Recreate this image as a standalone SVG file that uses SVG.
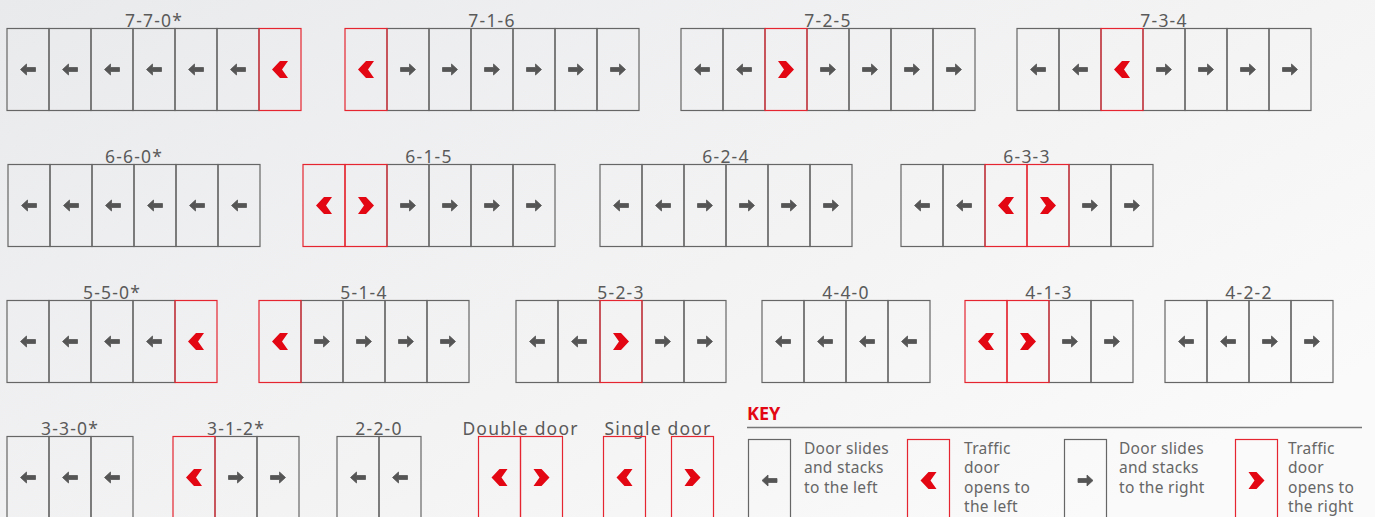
<svg xmlns="http://www.w3.org/2000/svg" xmlns:xlink="http://www.w3.org/1999/xlink" width="1375" height="517" viewBox="0 0 1375 517">
<defs>
<linearGradient id="bg" x1="0" y1="0" x2="1" y2="0.7">
<stop offset="0" stop-color="#e9eaec"/>
<stop offset="0.6" stop-color="#f3f3f4"/>
<stop offset="1" stop-color="#fafafa"/>
</linearGradient>
<path id="al" d="M-7.5,0 L-1.5,-5.5 L-1.5,-2 L7.5,-2 L7.5,2 L-1.5,2 L-1.5,5.5 Z" fill="#555" stroke="#555" stroke-width="0.8" stroke-linejoin="round"/>
<path id="ar" d="M7.5,0 L1.5,-5.5 L1.5,-2 L-7.5,-2 L-7.5,2 L1.5,2 L1.5,5.5 Z" fill="#555" stroke="#555" stroke-width="0.8" stroke-linejoin="round"/>
<polygon id="cl" points="-8,0 0,-8.5 8,-8.5 2,0 8,8.5 0,8.5" fill="#e30613"/>
<polygon id="cr" points="8,0 0,-8.5 -8,-8.5 -2,0 -8,8.5 0,8.5" fill="#e30613"/>
</defs>
<style>
.p{fill:none;stroke:#666;stroke-width:1.2}
.r{fill:none;stroke:#e52530;stroke-width:1.2}
.lb{font-family:"Noto Sans","Liberation Sans",sans-serif;font-size:17.5px;fill:#5a5a5a;text-anchor:middle;letter-spacing:1.2px}
.lw{letter-spacing:1.2px}
.kt{font-family:"Noto Sans","Liberation Sans",sans-serif;font-size:15.5px;fill:#666;letter-spacing:0.3px}
.key{font-family:"Noto Sans","Liberation Sans",sans-serif;font-size:18px;font-weight:bold;fill:#e30613}
</style>
<rect x="0" y="0" width="1375" height="517" fill="url(#bg)"/>

<g id="c770">
<text class="lb" x="154" y="26.5">7-7-0*</text>
<rect class="p" x="7" y="28.5" width="42" height="82"/><rect class="p" x="49" y="28.5" width="42" height="82"/><rect class="p" x="91" y="28.5" width="42" height="82"/><rect class="p" x="133" y="28.5" width="42" height="82"/><rect class="p" x="175" y="28.5" width="42" height="82"/><rect class="p" x="217" y="28.5" width="42" height="82"/><rect class="r" x="259" y="28.5" width="42" height="82"/>
<use href="#al" x="28" y="69.5"/><use href="#al" x="70" y="69.5"/><use href="#al" x="112" y="69.5"/><use href="#al" x="154" y="69.5"/><use href="#al" x="196" y="69.5"/><use href="#al" x="238" y="69.5"/><use href="#cl" x="280" y="69.5"/>
</g>
<g id="c716">
<text class="lb" x="492" y="26.5">7-1-6</text>
<rect class="p" x="387" y="28.5" width="42" height="82"/><rect class="p" x="429" y="28.5" width="42" height="82"/><rect class="p" x="471" y="28.5" width="42" height="82"/><rect class="p" x="513" y="28.5" width="42" height="82"/><rect class="p" x="555" y="28.5" width="42" height="82"/><rect class="p" x="597" y="28.5" width="42" height="82"/><rect class="r" x="345" y="28.5" width="42" height="82"/>
<use href="#cl" x="366" y="69.5"/><use href="#ar" x="408" y="69.5"/><use href="#ar" x="450" y="69.5"/><use href="#ar" x="492" y="69.5"/><use href="#ar" x="534" y="69.5"/><use href="#ar" x="576" y="69.5"/><use href="#ar" x="618" y="69.5"/>
</g>
<g id="c725">
<text class="lb" x="828" y="26.5">7-2-5</text>
<rect class="p" x="681" y="28.5" width="42" height="82"/><rect class="p" x="723" y="28.5" width="42" height="82"/><rect class="p" x="807" y="28.5" width="42" height="82"/><rect class="p" x="849" y="28.5" width="42" height="82"/><rect class="p" x="891" y="28.5" width="42" height="82"/><rect class="p" x="933" y="28.5" width="42" height="82"/><rect class="r" x="765" y="28.5" width="42" height="82"/>
<use href="#al" x="702" y="69.5"/><use href="#al" x="744" y="69.5"/><use href="#cr" x="786" y="69.5"/><use href="#ar" x="828" y="69.5"/><use href="#ar" x="870" y="69.5"/><use href="#ar" x="912" y="69.5"/><use href="#ar" x="954" y="69.5"/>
</g>
<g id="c734">
<text class="lb" x="1164" y="26.5">7-3-4</text>
<rect class="p" x="1017" y="28.5" width="42" height="82"/><rect class="p" x="1059" y="28.5" width="42" height="82"/><rect class="p" x="1143" y="28.5" width="42" height="82"/><rect class="p" x="1185" y="28.5" width="42" height="82"/><rect class="p" x="1227" y="28.5" width="42" height="82"/><rect class="p" x="1269" y="28.5" width="42" height="82"/><rect class="r" x="1101" y="28.5" width="42" height="82"/>
<use href="#al" x="1038" y="69.5"/><use href="#al" x="1080" y="69.5"/><use href="#cl" x="1122" y="69.5"/><use href="#ar" x="1164" y="69.5"/><use href="#ar" x="1206" y="69.5"/><use href="#ar" x="1248" y="69.5"/><use href="#ar" x="1290" y="69.5"/>
</g>

<g id="c660">
<text class="lb" x="134" y="162.5">6-6-0*</text>
<rect class="p" x="8" y="164.5" width="42" height="82"/><rect class="p" x="50" y="164.5" width="42" height="82"/><rect class="p" x="92" y="164.5" width="42" height="82"/><rect class="p" x="134" y="164.5" width="42" height="82"/><rect class="p" x="176" y="164.5" width="42" height="82"/><rect class="p" x="218" y="164.5" width="42" height="82"/>
<use href="#al" x="29" y="205.5"/><use href="#al" x="71" y="205.5"/><use href="#al" x="113" y="205.5"/><use href="#al" x="155" y="205.5"/><use href="#al" x="197" y="205.5"/><use href="#al" x="239" y="205.5"/>
</g>
<g id="c615">
<text class="lb" x="429" y="162.5">6-1-5</text>
<rect class="p" x="387" y="164.5" width="42" height="82"/><rect class="p" x="429" y="164.5" width="42" height="82"/><rect class="p" x="471" y="164.5" width="42" height="82"/><rect class="p" x="513" y="164.5" width="42" height="82"/><rect class="r" x="303" y="164.5" width="42" height="82"/><rect class="r" x="345" y="164.5" width="42" height="82"/>
<use href="#cl" x="324" y="205.5"/><use href="#cr" x="366" y="205.5"/><use href="#ar" x="408" y="205.5"/><use href="#ar" x="450" y="205.5"/><use href="#ar" x="492" y="205.5"/><use href="#ar" x="534" y="205.5"/>
</g>
<g id="c624">
<text class="lb" x="726" y="162.5">6-2-4</text>
<rect class="p" x="600" y="164.5" width="42" height="82"/><rect class="p" x="642" y="164.5" width="42" height="82"/><rect class="p" x="684" y="164.5" width="42" height="82"/><rect class="p" x="726" y="164.5" width="42" height="82"/><rect class="p" x="768" y="164.5" width="42" height="82"/><rect class="p" x="810" y="164.5" width="42" height="82"/>
<use href="#al" x="621" y="205.5"/><use href="#al" x="663" y="205.5"/><use href="#ar" x="705" y="205.5"/><use href="#ar" x="747" y="205.5"/><use href="#ar" x="789" y="205.5"/><use href="#ar" x="831" y="205.5"/>
</g>
<g id="c633">
<text class="lb" x="1027" y="162.5">6-3-3</text>
<rect class="p" x="901" y="164.5" width="42" height="82"/><rect class="p" x="943" y="164.5" width="42" height="82"/><rect class="p" x="1069" y="164.5" width="42" height="82"/><rect class="p" x="1111" y="164.5" width="42" height="82"/><rect class="r" x="985" y="164.5" width="42" height="82"/><rect class="r" x="1027" y="164.5" width="42" height="82"/>
<use href="#al" x="922" y="205.5"/><use href="#al" x="964" y="205.5"/><use href="#cl" x="1006" y="205.5"/><use href="#cr" x="1048" y="205.5"/><use href="#ar" x="1090" y="205.5"/><use href="#ar" x="1132" y="205.5"/>
</g>

<g id="c550">
<text class="lb" x="112" y="298.5">5-5-0*</text>
<rect class="p" x="7" y="300.5" width="42" height="82"/><rect class="p" x="49" y="300.5" width="42" height="82"/><rect class="p" x="91" y="300.5" width="42" height="82"/><rect class="p" x="133" y="300.5" width="42" height="82"/><rect class="r" x="175" y="300.5" width="42" height="82"/>
<use href="#al" x="28" y="341.5"/><use href="#al" x="70" y="341.5"/><use href="#al" x="112" y="341.5"/><use href="#al" x="154" y="341.5"/><use href="#cl" x="196" y="341.5"/>
</g>
<g id="c514">
<text class="lb" x="364" y="298.5">5-1-4</text>
<rect class="p" x="301" y="300.5" width="42" height="82"/><rect class="p" x="343" y="300.5" width="42" height="82"/><rect class="p" x="385" y="300.5" width="42" height="82"/><rect class="p" x="427" y="300.5" width="42" height="82"/><rect class="r" x="259" y="300.5" width="42" height="82"/>
<use href="#cl" x="280" y="341.5"/><use href="#ar" x="322" y="341.5"/><use href="#ar" x="364" y="341.5"/><use href="#ar" x="406" y="341.5"/><use href="#ar" x="448" y="341.5"/>
</g>
<g id="c523">
<text class="lb" x="621" y="298.5">5-2-3</text>
<rect class="p" x="516" y="300.5" width="42" height="82"/><rect class="p" x="558" y="300.5" width="42" height="82"/><rect class="p" x="642" y="300.5" width="42" height="82"/><rect class="p" x="684" y="300.5" width="42" height="82"/><rect class="r" x="600" y="300.5" width="42" height="82"/>
<use href="#al" x="537" y="341.5"/><use href="#al" x="579" y="341.5"/><use href="#cr" x="621" y="341.5"/><use href="#ar" x="663" y="341.5"/><use href="#ar" x="705" y="341.5"/>
</g>
<g id="c440">
<text class="lb" x="846" y="298.5">4-4-0</text>
<rect class="p" x="762" y="300.5" width="42" height="82"/><rect class="p" x="804" y="300.5" width="42" height="82"/><rect class="p" x="846" y="300.5" width="42" height="82"/><rect class="p" x="888" y="300.5" width="42" height="82"/>
<use href="#al" x="783" y="341.5"/><use href="#al" x="825" y="341.5"/><use href="#al" x="867" y="341.5"/><use href="#al" x="909" y="341.5"/>
</g>
<g id="c413">
<text class="lb" x="1049" y="298.5">4-1-3</text>
<rect class="p" x="1049" y="300.5" width="42" height="82"/><rect class="p" x="1091" y="300.5" width="42" height="82"/><rect class="r" x="965" y="300.5" width="42" height="82"/><rect class="r" x="1007" y="300.5" width="42" height="82"/>
<use href="#cl" x="986" y="341.5"/><use href="#cr" x="1028" y="341.5"/><use href="#ar" x="1070" y="341.5"/><use href="#ar" x="1112" y="341.5"/>
</g>
<g id="c422">
<text class="lb" x="1249" y="298.5">4-2-2</text>
<rect class="p" x="1165" y="300.5" width="42" height="82"/><rect class="p" x="1207" y="300.5" width="42" height="82"/><rect class="p" x="1249" y="300.5" width="42" height="82"/><rect class="p" x="1291" y="300.5" width="42" height="82"/>
<use href="#al" x="1186" y="341.5"/><use href="#al" x="1228" y="341.5"/><use href="#ar" x="1270" y="341.5"/><use href="#ar" x="1312" y="341.5"/>
</g>

<g id="c330">
<text class="lb" x="70" y="434.5">3-3-0*</text>
<rect class="p" x="7" y="436.5" width="42" height="90"/><rect class="p" x="49" y="436.5" width="42" height="90"/><rect class="p" x="91" y="436.5" width="42" height="90"/>
<use href="#al" x="28" y="477.5"/><use href="#al" x="70" y="477.5"/><use href="#al" x="112" y="477.5"/>
</g>
<g id="c312">
<text class="lb" x="236" y="434.5">3-1-2*</text>
<rect class="p" x="215" y="436.5" width="42" height="90"/><rect class="p" x="257" y="436.5" width="42" height="90"/><rect class="r" x="173" y="436.5" width="42" height="90"/>
<use href="#cl" x="194" y="477.5"/><use href="#ar" x="236" y="477.5"/><use href="#ar" x="278" y="477.5"/>
</g>
<g id="c220">
<text class="lb" x="379" y="434.5">2-2-0</text>
<rect class="p" x="337" y="436.5" width="42" height="90"/><rect class="p" x="379" y="436.5" width="42" height="90"/>
<use href="#al" x="358" y="477.5"/><use href="#al" x="400" y="477.5"/>
</g>
<g id="double">
<text class="lb lw" x="520.5" y="434.5">Double door</text>
<rect class="r" x="478.5" y="436.5" width="42" height="90"/><rect class="r" x="520.5" y="436.5" width="42" height="90"/>
<use href="#cl" x="499.5" y="477.5"/><use href="#cr" x="541.5" y="477.5"/>
</g>
<g id="single">
<text class="lb lw" x="658" y="434.5">Single door</text>
<rect class="r" x="603.5" y="436.5" width="42" height="90"/><rect class="r" x="671.5" y="436.5" width="42" height="90"/>
<use href="#cl" x="624.5" y="477.5"/><use href="#cr" x="692.5" y="477.5"/>
</g>

<g id="key">
<text class="key" x="747" y="420">KEY</text>
<line x1="747" y1="427.5" x2="1362" y2="427.5" stroke="#777" stroke-width="1.3"/>
<g id="key-left">
<rect class="p" x="748.5" y="439.5" width="42" height="90"/>
<use href="#al" x="769.5" y="480.5"/>
<text class="kt" x="804" y="453.5">Door slides</text><text class="kt" x="804" y="473">and stacks</text><text class="kt" x="804" y="492.5">to the left</text>
</g>
<g id="key-traffic-left">
<rect class="r" x="907.5" y="439.5" width="42" height="90"/>
<use href="#cl" x="928.5" y="480.5"/>
<text class="kt" x="964" y="453.5">Traffic</text><text class="kt" x="964" y="473">door</text><text class="kt" x="964" y="492.5">opens to</text><text class="kt" x="964" y="512">the left</text>
</g>
<g id="key-right">
<rect class="p" x="1064.5" y="439.5" width="42" height="90"/>
<use href="#ar" x="1085.5" y="480.5"/>
<text class="kt" x="1119" y="453.5">Door slides</text><text class="kt" x="1119" y="473">and stacks</text><text class="kt" x="1119" y="492.5">to the right</text>
</g>
<g id="key-traffic-right">
<rect class="r" x="1235.5" y="439.5" width="42" height="90"/>
<use href="#cr" x="1256.5" y="480.5"/>
<text class="kt" x="1288" y="453.5">Traffic</text><text class="kt" x="1288" y="473">door</text><text class="kt" x="1288" y="492.5">opens to</text><text class="kt" x="1288" y="512">the right</text>
</g>
</g>
</svg>
